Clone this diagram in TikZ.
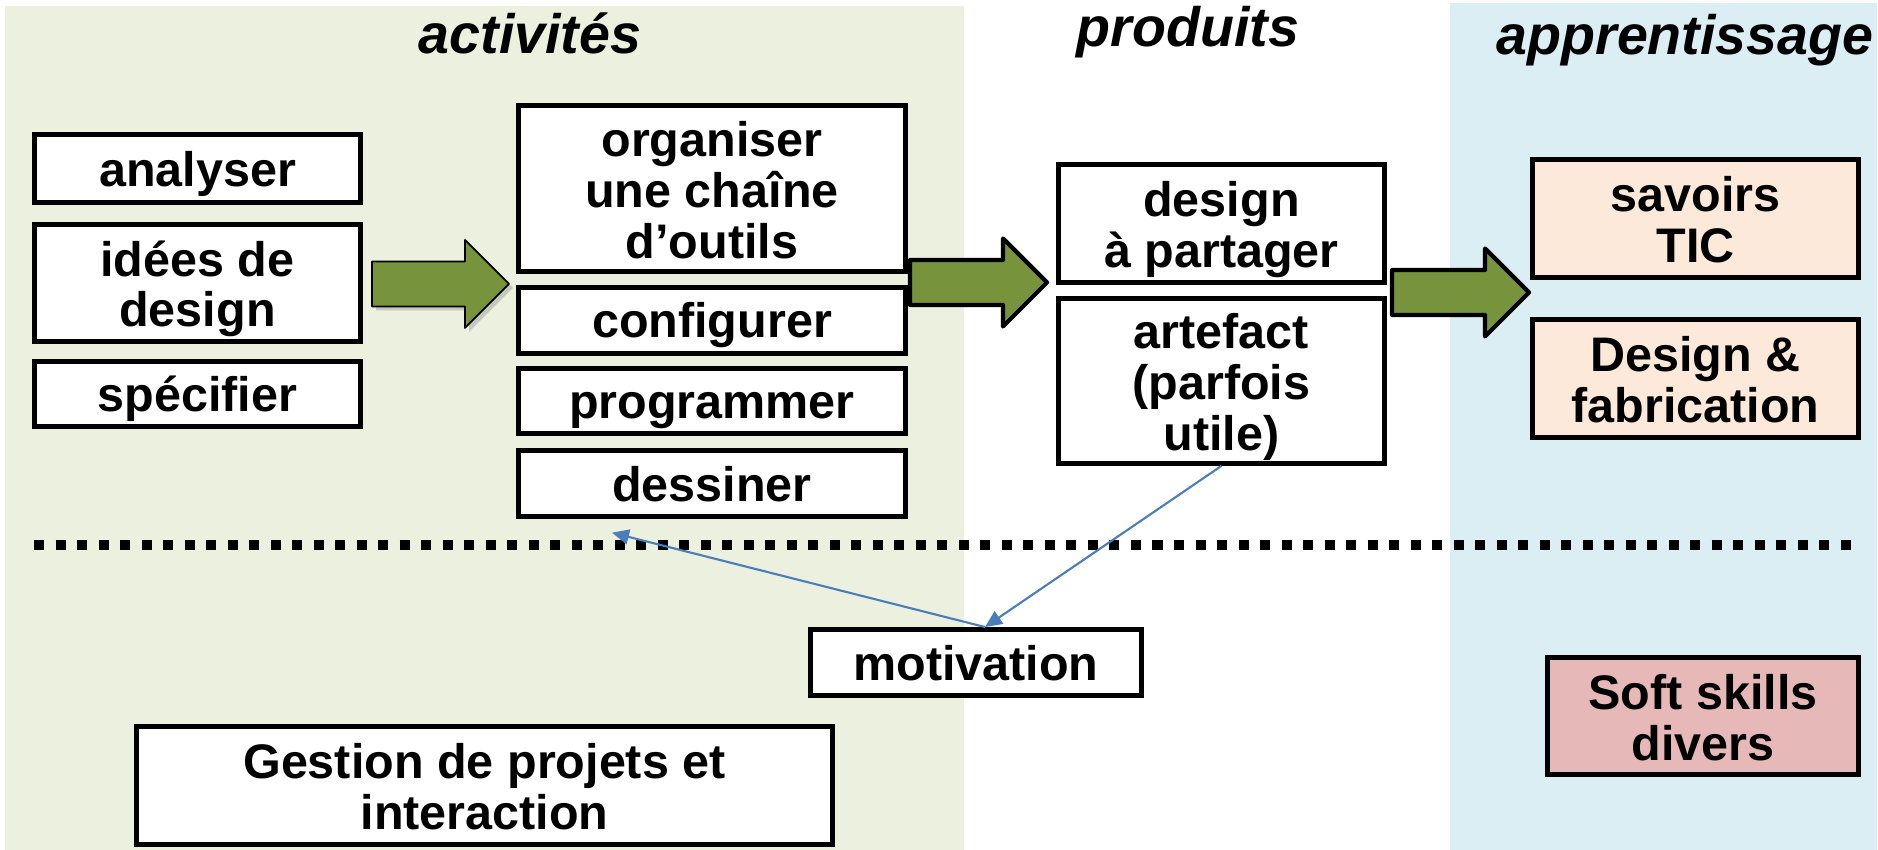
\documentclass[tikz,border=0pt]{standalone}
\usepackage{fontspec}
\setmainfont{Liberation Sans}
\usepackage{xcolor}
\usetikzlibrary{arrows.meta, positioning, shadows}

\definecolor{actbg}{HTML}{EBF1DE}
\definecolor{appbg}{HTML}{DAEEF3}
\definecolor{savfill}{HTML}{FDE9D9}
\definecolor{softfill}{HTML}{E6B9B8}
\definecolor{flowgreen}{HTML}{77933C}
\definecolor{linkblue}{HTML}{4A7EBB}

% montant de la premiere ligne dans les cases a plusieurs lignes
\newcommand{\firstline}{\vrule height 13.5pt depth 0pt width 0pt}

\begin{document}
\begin{tikzpicture}[
  node distance=0.15cm,
  every node/.style={font=\fontsize{13.8}{14.5}\selectfont\bfseries},
  box/.style={draw, line width=1.4pt, fill=white, align=center, inner xsep=2pt, inner ysep=0pt,
    minimum width=3.26cm,
    execute at begin node={\noindent\vrule height 12.9pt depth 0pt width 0pt},
    execute at end node={\vrule height 0pt depth 2.7pt width 0pt}},
  head/.style={font=\fontsize{15.8}{18}\selectfont\bfseries\itshape, anchor=base},
  link/.style={draw=linkblue, line width=0.6pt, -{Triangle[length=1.7mm, width=1.5mm]}}
]
  \useasboundingbox (0,0) rectangle (18.78,-8.5);

  % fonds des colonnes
  \fill[actbg] (0.05,-0.06) rectangle (9.64,-8.5);
  \fill[appbg] (14.50,-0.03) rectangle (18.77,-8.5);

  \node[head] (tact) at (5.30,-0.54) {activités};
  \node[head] (tprod) at (11.88,-0.47) {produits};
  \node[head] (tapp) at (16.85,-0.55) {apprentissage};

  % grandes flèches vertes
  \foreach \x/\y/\w/\sh in {3.72/-2.84/0.5pt/0.35, 9.10/-2.825/1.2pt/0, 13.92/-2.925/1.2pt/0}
    \draw[fill=flowgreen, line width=\w, line join=round,
          drop shadow={opacity=\sh, shadow xshift=0.04cm, shadow yshift=-0.04cm}]
      (\x,\y) ++(0,0.225) -- ++(0.93,0) -- ++(0,0.215) -- ++(0.44,-0.44)
      -- ++(-0.44,-0.44) -- ++(0,0.215) -- ++(-0.93,0) -- cycle;

  % activités
  \node[box, minimum height=0.68cm] (analyser) at (1.975,-1.685) {analyser};
  \node[box, minimum height=1.17cm, below=0.17cm of analyser] (idees) {\firstline idées de\\design};
  \node[box, minimum height=0.65cm, below=of idees] (specifier) {spécifier};

  \node[box, minimum width=3.87cm, minimum height=1.66cm] (organiser) at (7.12,-1.885) {\firstline organiser\\une chaîne\\d’outils};
  \node[box, minimum width=3.87cm, minimum height=0.66cm, below=0.11cm of organiser] (configurer) {configurer};
  \node[box, minimum width=3.87cm, minimum height=0.65cm, below=0.10cm of configurer] (programmer) {programmer};
  \node[box, minimum width=3.87cm, minimum height=0.66cm, below=0.12cm of programmer] (dessiner) {dessiner};

  % produits
  \node[box, minimum height=1.18cm] (partage) at (12.215,-2.235) {\firstline design\\à partager};
  \node[box, minimum height=1.65cm, below=0.11cm of partage] (artefact) {\firstline artefact\\(parfois\\utile)};

  % apprentissage
  \node[box, fill=savfill, minimum height=1.18cm] (savoirs) at (16.955,-2.185) {\firstline savoirs\\TIC};
  \node[box, fill=savfill, minimum height=1.18cm, below=0.37cm of savoirs] (fabrication) {\firstline Design \&\\fabrication};
  \node[box, fill=softfill, minimum width=3.11cm, minimum height=1.17cm] (soft) at (17.03,-7.16) {\firstline Soft skills\\divers};

  % séparation
  \draw[line width=3pt, dash pattern=on 2.85pt off 3.27pt] (0.34,-5.45) -- (18.56,-5.45);

  \node[box, minimum width=3.31cm, minimum height=0.66cm] (motivation) at (9.76,-6.625) {motivation};
  \node[box, minimum width=6.96cm, minimum height=1.18cm] (gestion) at (4.845,-7.855) {\firstline Gestion de projets et\\interaction};

  \draw[link] (artefact.south) -- ([xshift=0.09cm]motivation.north);
  \draw[link] ([xshift=0.09cm]motivation.north) -- ([xshift=-1cm,yshift=-0.14cm]dessiner.south);
\end{tikzpicture}
\end{document}
